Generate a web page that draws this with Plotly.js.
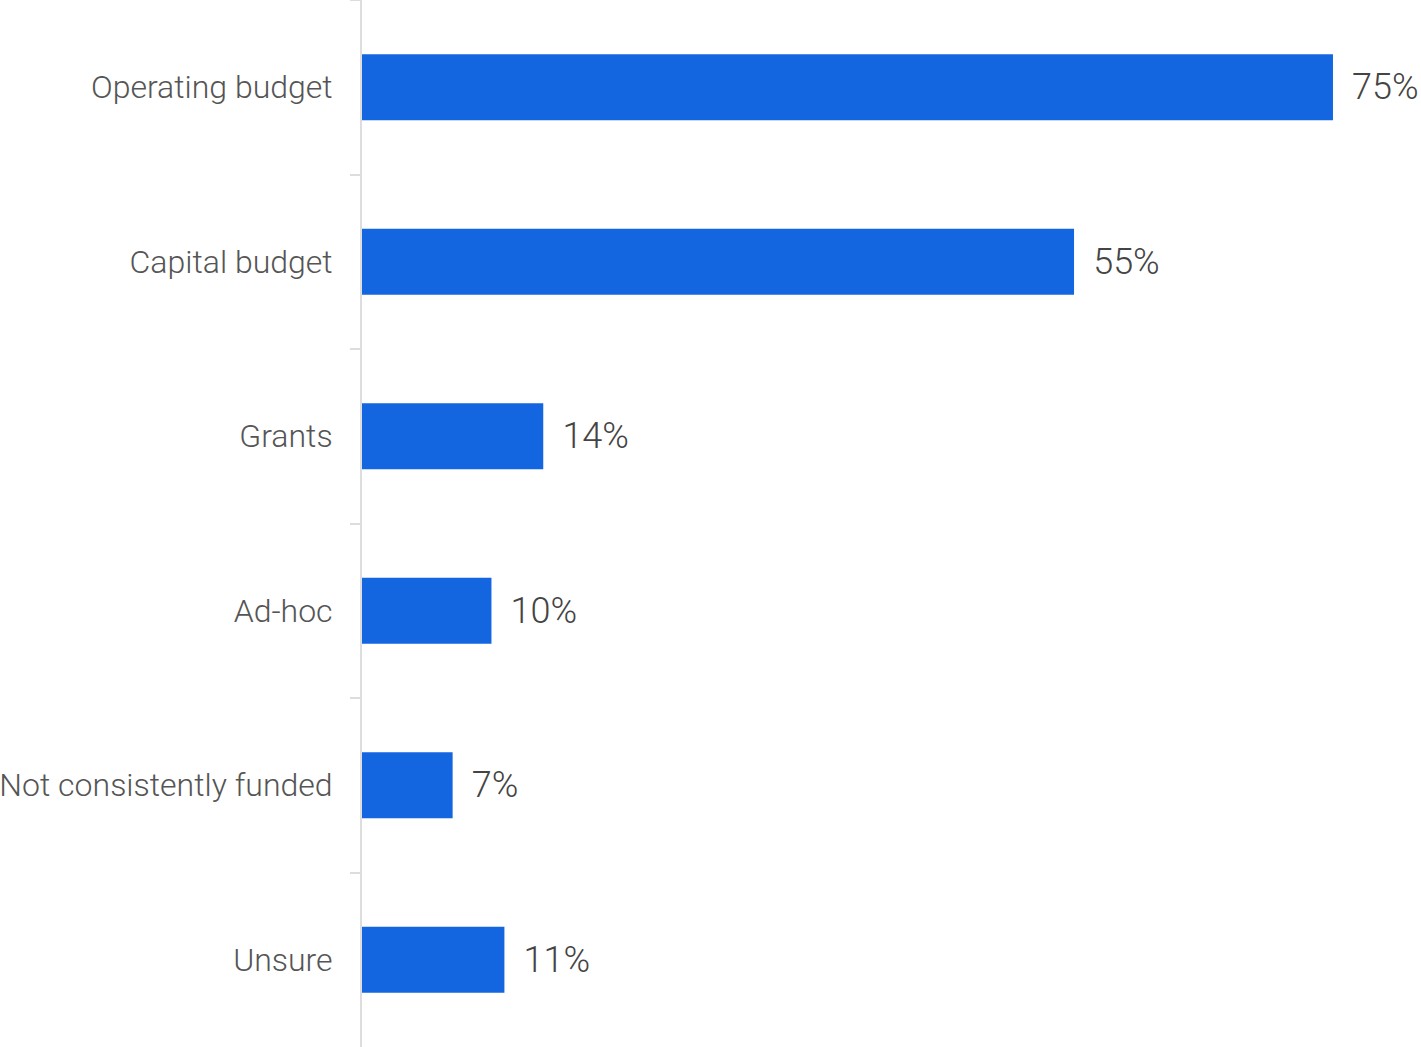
<!DOCTYPE html>
<html>
<head>
<meta charset="utf-8">
<script src="https://cdn.plot.ly/plotly-3.0.1.min.js"></script>
<style>html,body{margin:0;padding:0;background:#fff;}#chart{width:1421px;height:1047px;}</style>
</head>
<body>
<div id="chart"></div>
<script>
var categories = ["Operating budget", "Capital budget", "Grants", "Ad-hoc", "Not consistently funded", "Unsure"];
var values = [75, 55, 14, 10, 7, 11];
var valueLabels = values.map(function(v){ return "\u00a0\u2009" + v + "%"; });

var trace = {
  type: "bar",
  orientation: "h",
  x: values,
  y: categories,
  text: valueLabels,
  textposition: "outside",
  texttemplate: "%{text}",
  cliponaxis: false,
  width: 0.377,
  marker: {color: "#1366e0"},
  textfont: {family: "Roboto", size: 36, color: "#444444", weight: 300},
  hoverinfo: "none"
};

var layout = {
  width: 1421,
  height: 1047,
  margin: {l: 362, r: 0, t: 0, b: 0, pad: 0},
  paper_bgcolor: "#ffffff",
  plot_bgcolor: "#ffffff",
  showlegend: false,
  xaxis: {
    range: [0, 81.8],
    visible: false,
    showgrid: false,
    zeroline: false
  },
  yaxis: {
    type: "category",
    autorange: false,
    range: [5.5, -0.5],
    showline: true,
    linecolor: "#dddddd",
    linewidth: 2,
    ticks: "outside",
    tickson: "boundaries",
    ticklen: 10,
    tickwidth: 2,
    tickcolor: "#dddddd",
    ticklabelstandoff: 21,
    showgrid: false,
    zeroline: false,
    tickfont: {family: "Roboto", size: 32, color: "#555555", weight: 300}
  }
};

Plotly.newPlot("chart", [trace], layout, {staticPlot: true, displayModeBar: false});
</script>
</body>
</html>
